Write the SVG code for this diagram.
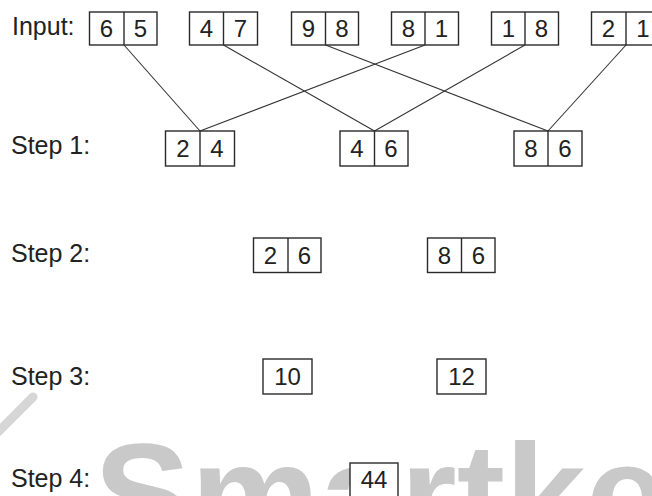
<svg xmlns="http://www.w3.org/2000/svg" width="652" height="496" viewBox="0 0 652 496">
<style>
.bg{fill:#ffffff}
.wm{font-family:"Liberation Sans",Arial,sans-serif;font-weight:bold;fill:#c9c9c9}
.wmline{stroke:#d6d6d6;stroke-width:9;stroke-linecap:round;fill:none}
.box{fill:#ffffff;stroke:#2a2a2a;stroke-width:1.4}
.div{stroke:#2a2a2a;stroke-width:1.4}
.lbl{font-family:"Liberation Sans",Arial,sans-serif;font-size:25px;fill:#222222}
.num{font-family:"Liberation Sans",Arial,sans-serif;font-size:24px;fill:#222222;text-anchor:middle}
.conn line{stroke:#333333;stroke-width:1.1}
</style>
<rect class="bg" x="0" y="0" width="652" height="496"/>
<g id="watermark">
<line class="wmline" x1="33" y1="397" x2="-5" y2="435"/>
<text class="wm" x="94" y="545" font-size="145">Smartkeeda</text>
</g>
<g id="labels">
<text class="lbl" x="12" y="35">Input:</text>
<text class="lbl" x="11" y="154">Step 1:</text>
<text class="lbl" x="11" y="262">Step 2:</text>
<text class="lbl" x="11" y="385">Step 3:</text>
<text class="lbl" x="11" y="487">Step 4:</text>
</g>
<g id="connectors" class="conn">
<line x1="124" y1="45" x2="200" y2="131"/>
<line x1="223.5" y1="45" x2="374.5" y2="131"/>
<line x1="325.5" y1="45" x2="548" y2="131"/>
<line x1="425" y1="45" x2="200" y2="131"/>
<line x1="525" y1="45" x2="374.5" y2="131"/>
<line x1="626" y1="45" x2="548" y2="131"/>
</g>
<g id="in1"><rect class="box" x="89.5" y="12" width="67.5" height="33"/><line class="div" x1="124" y1="12" x2="124" y2="45"/><text class="num" x="106.5" y="37">6</text><text class="num" x="140.5" y="37">5</text></g>
<g id="in2"><rect class="box" x="189.5" y="12" width="68" height="33"/><line class="div" x1="223.5" y1="12" x2="223.5" y2="45"/><text class="num" x="206.5" y="37">4</text><text class="num" x="240.5" y="37">7</text></g>
<g id="in3"><rect class="box" x="291.5" y="12" width="67" height="33"/><line class="div" x1="325.5" y1="12" x2="325.5" y2="45"/><text class="num" x="308.5" y="37">9</text><text class="num" x="342" y="37">8</text></g>
<g id="in4"><rect class="box" x="391.5" y="12" width="67" height="33"/><line class="div" x1="425" y1="12" x2="425" y2="45"/><text class="num" x="408.5" y="37">8</text><text class="num" x="441.5" y="37">1</text></g>
<g id="in5"><rect class="box" x="491.5" y="12" width="67" height="33"/><line class="div" x1="525" y1="12" x2="525" y2="45"/><text class="num" x="508.5" y="37">1</text><text class="num" x="541.5" y="37">8</text></g>
<g id="in6"><rect class="box" x="591.5" y="12" width="68.5" height="33"/><line class="div" x1="626" y1="12" x2="626" y2="45"/><text class="num" x="608.5" y="37">2</text><text class="num" x="643" y="37">1</text></g>
<g id="s1a"><rect class="box" x="165.5" y="131" width="69" height="35"/><line class="div" x1="200" y1="131" x2="200" y2="166"/><text class="num" x="183" y="157">2</text><text class="num" x="217" y="157">4</text></g>
<g id="s1b"><rect class="box" x="340" y="131" width="68" height="35"/><line class="div" x1="374.5" y1="131" x2="374.5" y2="166"/><text class="num" x="357" y="157">4</text><text class="num" x="391" y="157">6</text></g>
<g id="s1c"><rect class="box" x="514" y="131" width="68" height="35"/><line class="div" x1="548" y1="131" x2="548" y2="166"/><text class="num" x="531" y="157">8</text><text class="num" x="565" y="157">6</text></g>
<g id="s2a"><rect class="box" x="253.5" y="238" width="67.5" height="34.5"/><line class="div" x1="288" y1="238" x2="288" y2="272.5"/><text class="num" x="270.5" y="264">2</text><text class="num" x="304.5" y="264">6</text></g>
<g id="s2b"><rect class="box" x="427.5" y="238" width="67.5" height="34.5"/><line class="div" x1="461.5" y1="238" x2="461.5" y2="272.5"/><text class="num" x="444.5" y="264">8</text><text class="num" x="478.5" y="264">6</text></g>
<g id="s3a"><rect class="box" x="263" y="359" width="49" height="35"/><text class="num" x="287.5" y="385">10</text></g>
<g id="s3b"><rect class="box" x="437" y="359" width="49" height="35"/><text class="num" x="461.5" y="385">12</text></g>
<g id="s4"><rect class="box" x="350" y="463" width="48" height="34"/><text class="num" x="374" y="488">44</text></g>
</svg>
